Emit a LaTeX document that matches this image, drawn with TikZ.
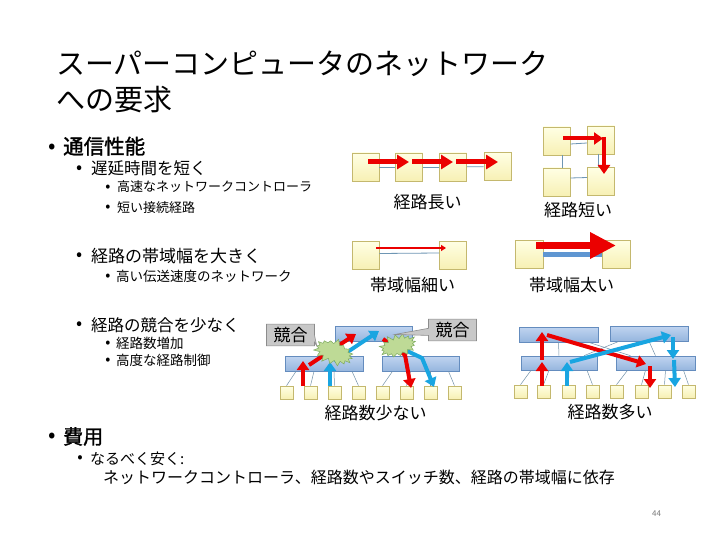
\documentclass[tikz,border=0pt]{standalone}
\usepackage{fontspec}
\setmainfont{Noto Sans CJK JP}
\newfontfamily\boldjp{Noto Sans CJK JP}[FakeBold=1.5]
\usetikzlibrary{arrows.meta,shapes.symbols,shapes.callouts}
\definecolor{ytop}{RGB}{255,255,228}
\definecolor{ybot}{RGB}{247,240,180}
\definecolor{yline}{RGB}{196,184,110}
\definecolor{stop}{RGB}{192,212,240}
\definecolor{sbot}{RGB}{150,182,222}
\definecolor{sline}{RGB}{100,140,190}
\definecolor{linkc}{RGB}{110,150,180}
\definecolor{fatlink}{RGB}{95,150,210}
\definecolor{arred}{RGB}{235,0,0}
\definecolor{arblue}{RGB}{25,165,225}
\definecolor{gfill}{RGB}{190,218,150}
\definecolor{gline}{RGB}{125,170,95}
\definecolor{cfill}{RGB}{200,200,200}
\definecolor{cline}{RGB}{140,140,140}
\definecolor{pgnum}{RGB}{120,120,120}
\begin{document}
\begin{tikzpicture}[x=1pt,y=-1pt,
  txt/.style={inner sep=0pt, anchor=base west, font=\fontsize{#1}{#1}\selectfont},
  lbl/.style={inner sep=0pt, anchor=base, font=\fontsize{17}{17}\selectfont},
  bul/.style={inner sep=0pt, anchor=center, font=\fontsize{#1}{#1}\selectfont},
  ybox/.style={draw=yline, line width=0.8pt, top color=ytop, bottom color=ybot, minimum width=27pt, minimum height=28pt, inner sep=0pt},
  leaf/.style={draw=yline, line width=0.6pt, top color=ytop, bottom color=ybot, minimum width=13pt, minimum height=13pt, inner sep=0pt},
  sw/.style={draw=sline, line width=0.6pt, top color=stop, bottom color=sbot, minimum width=#1, minimum height=15pt, inner sep=0pt},
  link/.style={draw=linkc, line width=0.8pt},
  slink/.style={draw=linkc!80!gray, line width=0.5pt},
  arR/.style={draw=arred, line width=4pt, line join=round, -{Triangle[length=9pt,width=12pt]}},
  arB/.style={draw=arblue, line width=4pt, line join=round, -{Triangle[length=9pt,width=12pt]}},
  burst/.style={starburst, starburst points=16, starburst point height=6pt, random starburst=7, fill=gfill, draw=gline, line width=0.5pt, inner sep=0pt},
  call/.style={rectangle callout, fill=cfill, draw=cline, line width=0.6pt, inner xsep=7pt, inner ysep=3pt, font=\fontsize{17}{17}\selectfont}
]
\useasboundingbox (0,0) rectangle (720,540);
\fill[white] (0,0) rectangle (720,540);

% ---------- text ----------
\node[txt=29] (title1) at (56,75) {スーパーコンピュータのネットワーク};
\node[txt=29] (title2) at (56,111) {への要求};

\node[bul=22] (b01) at (52,149) {•};
\node[txt=20.5] (t01) at (63,154) {\boldjp 通信性能};
\node[bul=18] (b02) at (80,170) {•};
\node[txt=16.5] (t02) at (91,175) {遅延時間を短く};
\node[bul=15] (b03) at (108,188) {•};
\node[txt=13] (t03) at (117,192) {高速なネットワークコントローラ};
\node[bul=15] (b04) at (108,208) {•};
\node[txt=13] (t04) at (117,212) {短い接続経路};
\node[bul=18] (b05) at (80,257) {•};
\node[txt=17] (t05) at (91,262) {経路の帯域幅を大きく};
\node[bul=15] (b06) at (108,277) {•};
\node[txt=13.5] (t06) at (116,281) {高い伝送速度のネットワーク};
\node[bul=18] (b07) at (80,326) {•};
\node[txt=16.5] (t07) at (91,331) {経路の競合を少なく};
\node[bul=15] (b08) at (108,344) {•};
\node[txt=13.5] (t08) at (116,348) {経路数増加};
\node[bul=15] (b09) at (108,361) {•};
\node[txt=13.5] (t09) at (116,365) {高度な経路制御};
\node[bul=22] (b10) at (52,438) {•};
\node[txt=20] (t10) at (63,444) {\boldjp 費用};
\node[bul=16] (b11) at (80,459) {•};
\node[txt=15] (t11) at (90,464) {なるべく安く:};
\node[txt=16] (t12) at (103,483) {ネットワークコントローラ、経路数やスイッチ数、経路の帯域幅に依存};
\node[inner sep=0pt, font=\fontsize{8}{8}\selectfont, text=pgnum] (pg) at (656.5,513.5) {44};

% ---------- diagram 1: long path ----------
\node[ybox] (a1) at (365.5,167) {};
\node[ybox] (a2) at (409,167) {};
\node[ybox] (a3) at (453,167) {};
\node[ybox] (a4) at (497.5,166.5) {};
\draw[link] (a1) -- (a2);
\draw[link] (a2) -- (a3);
\draw[link] (a3) -- (a4);
\coordinate (p1s) at (368,162); \coordinate (p1e) at (409,162);
\coordinate (p2s) at (412,162); \coordinate (p2e) at (453,162);
\coordinate (p3s) at (456,162); \coordinate (p3e) at (498,162);
\begin{scope}[arR/.append style={line width=5pt, -{Triangle[length=12pt,width=14pt]}}]
\draw[arR] (p1s) -- (p1e);
\draw[arR] (p2s) -- (p2e);
\draw[arR] (p3s) -- (p3e);
\end{scope}
\node[lbl] (lab1) at (427.5,208) {経路長い};

% ---------- diagram 2: short path ----------
\node[ybox] (q1) at (556.5,141) {};
\node[ybox] (q2) at (601,140) {};
\node[ybox] (q3) at (556.5,182) {};
\node[ybox] (q4) at (601,181.5) {};
\draw[link] ([yshift=-3pt]q1.east) -- ([yshift=-3pt]q2.west);
\draw[link] ([yshift=4pt]q3.east) -- ([yshift=4pt]q4.west);
\draw[link] ([xshift=6pt]q1.south) -- ([xshift=6pt]q3.north);
\draw[link] ([xshift=-3pt]q2.south) -- ([xshift=-3pt]q4.north);
\coordinate (h1) at (563,138.5); \coordinate (h2) at (603,138.5);
\coordinate (v1) at (604,137); \coordinate (v2) at (604,174);
\draw[arR] (h1) -- (h2);
\draw[arR] (v1) -- (v2);
\node[lbl] (lab2) at (578,217) {経路短い};

% ---------- diagram 3: thin bandwidth ----------
\node[ybox] (c1) at (365.5,255.5) {};
\node[ybox] (c2) at (453,255) {};
\draw[link] ([yshift=2pt]c1.east) -- ([yshift=2pt]c2.west);
\coordinate (r1) at (376,248); \coordinate (r2) at (446,248);
\draw[draw=arred, line width=2pt, -{Triangle[length=5pt,width=6pt]}] (r1) -- (r2);
\node[lbl] (lab3) at (412.5,291) {帯域幅細い};

% ---------- diagram 4: wide bandwidth ----------
\node[ybox, minimum width=28pt] (d1) at (529,254) {};
\node[ybox, minimum width=28pt] (d2) at (616,254) {};
\draw[draw=fatlink, line width=5pt] ([yshift=-0.5pt]d1.east) -- ([yshift=-0.5pt]d2.west);
\coordinate (e1) at (536,245.5); \coordinate (e2) at (616,245.5);
\draw[draw=arred, line width=7pt, -{Triangle[length=26pt,width=25pt]}] (e1) -- (e2);
\node[lbl] (lab4) at (571.5,291) {帯域幅太い};

% ---------- diagram 5: few paths ----------
\node[sw=77pt] (s1) at (373.5,333.5) {};
\node[sw=78pt] (s2) at (324,363.5) {};
\node[sw=77pt] (s3) at (420.5,363.5) {};
\foreach \i/\xx in {1/286.5,2/310.5,3/334.5,4/358.5,5/382.5,6/406.5,7/430.5,8/454.5}
  \node[leaf] (l\i) at (\xx,392.5) {};
\draw[slink] ([xshift=-28pt]s2.south) -- (l1.north);
\draw[slink] ([xshift=-10pt]s2.south) -- (l2.north);
\draw[slink] ([xshift=10pt]s2.south) -- (l3.north);
\draw[slink] ([xshift=28pt]s2.south) -- (l4.north);
\draw[slink] ([xshift=-28pt]s3.south) -- (l5.north);
\draw[slink] ([xshift=-10pt]s3.south) -- (l6.north);
\draw[slink] ([xshift=10pt]s3.south) -- (l7.north);
\draw[slink] ([xshift=28pt]s3.south) -- (l8.north);
% arrows
\coordinate (f1) at (303,386); \coordinate (f2) at (303,361);
\coordinate (f3) at (309,365); \coordinate (f4) at (356,334);
\coordinate (f5) at (383,339); \coordinate (f6) at (405,355); \coordinate (f7) at (411,388);
\coordinate (g1) at (330,386); \coordinate (g2) at (330,362);
\coordinate (g3) at (334,361); \coordinate (g4) at (379,331);
\coordinate (g5) at (388,342); \coordinate (g6) at (422,358); \coordinate (g7) at (434,387);
\draw[arR] (f1) -- (f2);
\draw[arR] (f3) -- (f4);
\draw[arB] (g1) -- (g2);
\draw[arB] (g3) -- (g4);
\draw[arR] (f5) -- (f6) -- (f7);
\draw[arB] (g5) -- (g6) -- (g7);
% conflicts
\node[burst, minimum width=44pt, minimum height=28pt, rotate=-20] (x1) at (334,352) {};
\node[burst, minimum width=42pt, minimum height=26pt, random starburst=11, rotate=15] (x2) at (398,346) {};
\node[call, callout absolute pointer={(x1.west)}] (k1) at (290.5,335) {競合};
\node[call, callout absolute pointer={(x2.north)}] (k2) at (452.5,330) {競合};
\node[lbl] (lab5) at (375.5,419) {経路数少ない};

% ---------- diagram 6: many paths ----------
\node[sw=79pt] (u1) at (558.5,334.5) {};
\node[sw=78pt] (u2) at (649,333.5) {};
\node[sw=76pt, minimum height=14pt] (u3) at (559,363) {};
\node[sw=79pt, minimum height=14pt] (u4) at (655.5,363) {};
\foreach \i/\xx in {1/520.5,2/543.5,3/568.5,4/592.5,5/616.5,6/641.5,7/664.5,8/688.5}
  \node[leaf] (m\i) at (\xx,391.5) {};
\draw[slink] (u1.south) -- (u3.north);
\draw[slink] (u2.south) -- (u4.north);
\draw[slink] ([xshift=30pt]u1.south) -- ([xshift=-25pt]u4.north);
\draw[slink] ([xshift=-30pt]u2.south) -- ([xshift=25pt]u3.north);
\draw[slink] ([xshift=-28pt]u3.south) -- (m1.north);
\draw[slink] ([xshift=-10pt]u3.south) -- (m2.north);
\draw[slink] ([xshift=10pt]u3.south) -- (m3.north);
\draw[slink] ([xshift=28pt]u3.south) -- (m4.north);
\draw[slink] ([xshift=-28pt]u4.south) -- (m5.north);
\draw[slink] ([xshift=-10pt]u4.south) -- (m6.north);
\draw[slink] ([xshift=10pt]u4.south) -- (m7.north);
\draw[slink] ([xshift=28pt]u4.south) -- (m8.north);
\coordinate (n1) at (542,386); \coordinate (n2) at (542,362);
\coordinate (n3) at (542,360); \coordinate (n4) at (542,332);
\coordinate (n5) at (547,335); \coordinate (n6) at (646,364);
\coordinate (n7) at (650,366); \coordinate (n8) at (650,388);
\coordinate (o1) at (567,386); \coordinate (o2) at (567,362);
\coordinate (o3) at (570,362); \coordinate (o4) at (671,335);
\coordinate (o5) at (673,337); \coordinate (o6) at (673,359);
\coordinate (o7) at (674,360); \coordinate (o8) at (675,387);
\draw[arR] (n1) -- (n2);
\draw[arR] (n3) -- (n4);
\draw[arR] (n5) -- (n6);
\draw[arR] (n7) -- (n8);
\draw[arB] (o1) -- (o2);
\draw[arB] (o3) -- (o4);
\draw[arB] (o5) -- (o6);
\draw[arB] (o7) -- (o8);
\node[lbl] (lab6) at (610,418) {経路数多い};
\end{tikzpicture}
\end{document}
